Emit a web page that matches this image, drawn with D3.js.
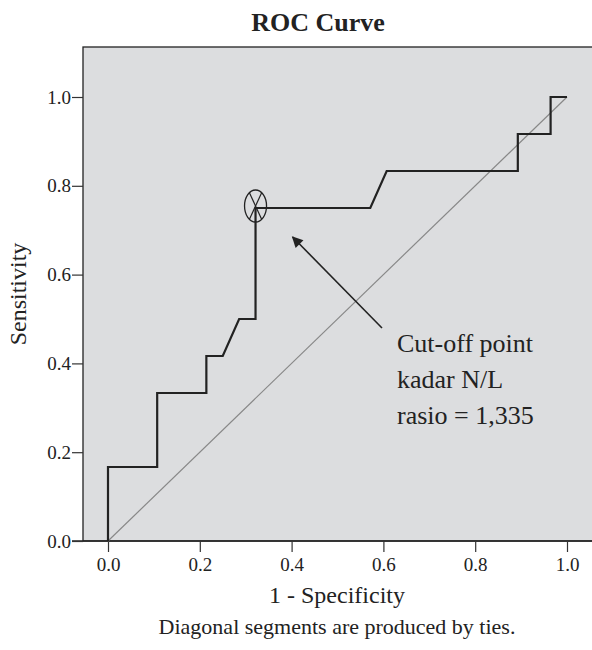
<!DOCTYPE html>
<html>
<head>
<meta charset="utf-8">
<script src="https://cdn.jsdelivr.net/npm/d3@7"></script>
<style>
  body { margin: 0; background: #fff; }
  svg { display: block; font-family: "Liberation Serif", "DejaVu Serif", serif; }
</style>
</head>
<body>
<svg id="chart" width="592" height="650"></svg>
<script>
// ROC curve points (1 - specificity, sensitivity)
var fpr  = [0, 0, 3/28, 3/28, 6/28, 6/28, 7/28, 8/28, 9/28, 9/28, 16/28, 17/28, 25/28, 25/28, 27/28, 27/28, 1]
var tpr  = [0, 2/12, 2/12, 4/12, 4/12, 5/12, 5/12, 6/12, 6/12, 9/12, 9/12, 10/12, 10/12, 11/12, 11/12, 1, 1]
var xTicks = [0, 0.2, 0.4, 0.6, 0.8, 1.0]
var yTicks = [0, 0.2, 0.4, 0.6, 0.8, 1.0]
var cutoff = [9/28, 9/12]
var noteLines = ["Cut-off point", "kadar N/L", "rasio = 1,335"]

var svg = d3.select('#chart')
var plotLeft = 83, plotTop = 47, plotRight = 600, plotBottom = 541

var x = d3.scaleLinear().domain([0, 1]).range([108, 567])
var y = d3.scaleLinear().domain([0, 1]).range([541, 97])

// plot background
svg.append('rect')
    .attr('x', plotLeft).attr('y', plotTop)
    .attr('width', plotRight - plotLeft).attr('height', plotBottom - plotTop)
    .attr('fill', '#dcdddf')
    .attr('stroke', '#222').attr('stroke-width', 1.3)

// title
svg.append('text')
    .attr('x', 318).attr('y', 31)
    .attr('text-anchor', 'middle')
    .attr('font-size', 26).attr('font-weight', 'bold').attr('fill', '#222')
    .text('ROC Curve')

// axes
var xAxis = d3.axisBottom(x).tickValues(xTicks).tickFormat(d3.format('.1f')).tickSize(11).tickPadding(6)
var yAxis = d3.axisLeft(y).tickValues(yTicks).tickFormat(d3.format('.1f')).tickSize(11).tickPadding(1)

var gx = svg.append('g').attr('transform', 'translate(0,' + plotBottom + ')').call(xAxis)
var gy = svg.append('g').attr('transform', 'translate(' + plotLeft + ',0)').call(yAxis)
gx.select('.domain').attr('d', 'M72,0H' + plotRight)
gy.select('.domain').remove()
svg.selectAll('.tick line').attr('stroke', '#333').attr('stroke-width', 1.2)
svg.selectAll('.tick text').attr('font-size', 19).attr('fill', '#222')
    .style('font-family', '"Liberation Serif", serif')
gx.selectAll('.domain').attr('stroke', '#222').attr('stroke-width', 1.3)

// axis titles
svg.append('text')
    .attr('x', 337).attr('y', 603)
    .attr('text-anchor', 'middle')
    .attr('font-size', 24).attr('fill', '#222')
    .text('1 - Specificity')

svg.append('text')
    .attr('transform', 'translate(26,294) rotate(-90)')
    .attr('text-anchor', 'middle')
    .attr('font-size', 24).attr('fill', '#222')
    .text('Sensitivity')

svg.append('text')
    .attr('x', 337).attr('y', 634)
    .attr('text-anchor', 'middle')
    .attr('font-size', 22).attr('fill', '#222')
    .text('Diagonal segments are produced by ties.')

// reference diagonal
svg.append('line')
    .attr('x1', x(0)).attr('y1', y(0))
    .attr('x2', x(1)).attr('y2', y(1))
    .attr('stroke', '#888').attr('stroke-width', 1.2)

// ROC curve
var line = d3.line()
    .x(function (d, i) { return x(fpr[i]) })
    .y(function (d, i) { return y(tpr[i]) })

svg.append('path')
    .datum(fpr)
    .attr('d', line)
    .attr('fill', 'none')
    .attr('stroke', '#222').attr('stroke-width', 2.2)

// cut-off marker
var cx = x(cutoff[0]), cy = y(cutoff[1]) - 2
var rx = 11, ry = 16
svg.append('ellipse')
    .attr('cx', cx).attr('cy', cy)
    .attr('rx', rx).attr('ry', ry)
    .attr('fill', 'none').attr('stroke', '#222').attr('stroke-width', 1.3)
var a = Math.PI / 3.2
;[[-1, -1], [1, -1], [-1, 1], [1, 1]].forEach(function (s) {
    svg.append('line')
        .attr('x1', cx).attr('y1', cy)
        .attr('x2', cx + s[0] * rx * Math.cos(a)).attr('y2', cy + s[1] * ry * Math.sin(a))
        .attr('stroke', '#222').attr('stroke-width', 1.2)
})

// annotation arrow
svg.append('defs').append('marker')
    .attr('id', 'arrow')
    .attr('viewBox', '0 0 10 10')
    .attr('refX', 9).attr('refY', 5)
    .attr('markerWidth', 15).attr('markerHeight', 11)
    .attr('markerUnits', 'userSpaceOnUse')
    .attr('orient', 'auto')
    .append('path').attr('d', 'M0,0L10,5L0,10z').attr('fill', '#222')

svg.append('line')
    .attr('x1', 382).attr('y1', 328)
    .attr('x2', x(0.4) + 1).attr('y2', y(0.75) + 29)
    .attr('stroke', '#222').attr('stroke-width', 1.6)
    .attr('marker-end', 'url(#arrow)')

svg.append('g').selectAll('text')
    .data(noteLines)
    .enter()
    .append('text')
    .attr('x', 397)
    .attr('y', function (d, i) { return 352 + i * 36 })
    .attr('font-size', 26).attr('fill', '#222')
    .text(function (d) { return d })
</script>
</body>
</html>
